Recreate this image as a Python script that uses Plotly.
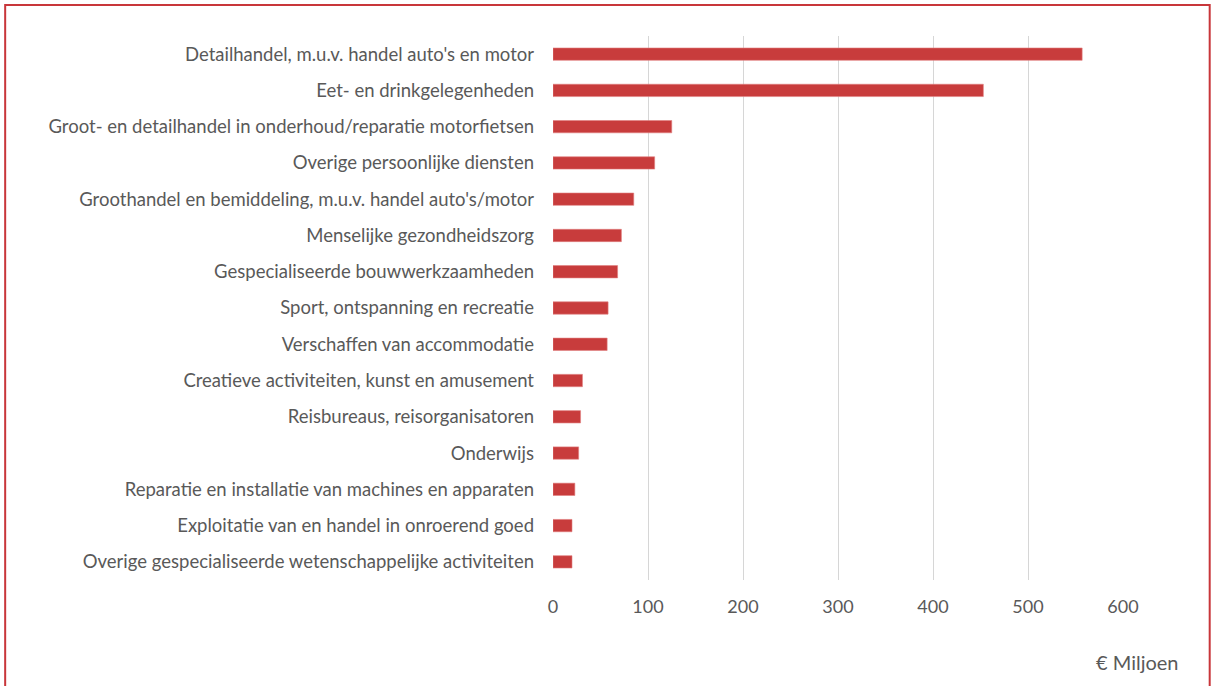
import plotly.graph_objects as go

categories = [
    "Detailhandel, m.u.v. handel auto's en motor",
    "Eet- en drinkgelegenheden",
    "Groot- en detailhandel in onderhoud/reparatie motorfietsen",
    "Overige persoonlijke diensten",
    "Groothandel en bemiddeling, m.u.v. handel auto's/motor",
    "Menselijke gezondheidszorg",
    "Gespecialiseerde bouwwerkzaamheden",
    "Sport, ontspanning en recreatie",
    "Verschaffen van accommodatie",
    "Creatieve activiteiten, kunst en amusement",
    "Reisbureaus, reisorganisatoren",
    "Onderwijs",
    "Reparatie en installatie van machines en apparaten",
    "Exploitatie van en handel in onroerend goed",
    "Overige gespecialiseerde wetenschappelijke activiteiten",
]
values = [557, 453, 125, 107, 85, 72, 68, 58, 57, 31, 29, 27, 23, 20, 20]
x_ticks = [0, 100, 200, 300, 400, 500, 600]
unit_label = "€ Miljoen"

W, H = 1214, 686
L, R, T, B = 552.5, 90.8, 36, 106

fig = go.Figure(go.Bar(
    y=categories, x=values, orientation="h",
    marker=dict(color="#C83C3C", line=dict(color="#E08080", width=0.6)),
    width=0.34,
))

fig.update_layout(
    width=W, height=H,
    margin=dict(l=L, r=R, t=T, b=B, pad=0),
    paper_bgcolor="white", plot_bgcolor="white",
    font=dict(family="Lato, Carlito, Calibri, sans-serif", size=18, color="#595959"),
    showlegend=False,
    xaxis=dict(range=[0, 600], tickvals=x_ticks, showgrid=True, gridcolor="#D6D6D6",
               gridwidth=1, zeroline=False, showline=False, ticks="",
               tickfont=dict(size=18, color="#595959"), ticklabelstandoff=14),
    yaxis=dict(autorange="reversed", showgrid=False, showline=False, ticks="",
               tickfont=dict(size=18.5, color="#595959"), ticklabelstandoff=18),
    annotations=[dict(text=unit_label, xref="paper", yref="paper",
                      x=(1181 - L) / (W - L - R), y=-(662 - (H - B)) / (H - T - B),
                      xanchor="right", yanchor="middle", showarrow=False,
                      font=dict(size=20, color="#595959"))],
    shapes=[dict(type="rect", xref="paper", yref="paper",
                 x0=(4 - L) / (W - L - R), x1=(1210 - L) / (W - L - R),
                 y0=-(H + 10 - (H - B)) / (H - T - B), y1=1 + (T - 5) / (H - T - B),
                 line=dict(color="#C8363A", width=2), layer="below")],
)

fig.write_html("out.html", config={"displayModeBar": False},
               post_script="document.body.style.margin='0';document.body.style.overflow='hidden';")
